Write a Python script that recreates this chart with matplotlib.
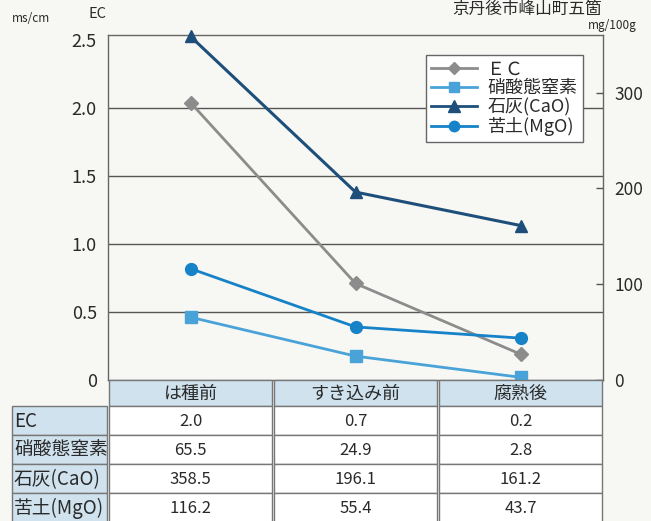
import matplotlib
matplotlib.use("Agg")
import matplotlib.pyplot as plt
from matplotlib.patches import Rectangle
from matplotlib.lines import Line2D

plt.rcParams['font.family'] = ['Noto Sans CJK JP', 'DejaVu Sans']

# ---- data ----
stages = ['は種前', 'すき込み前', '腐熟後']
ec = [2.04, 0.71, 0.19]            # ms/cm (left axis)
nitrate = [65.5, 24.9, 2.8]        # mg/100g (right axis)
lime = [358.5, 196.1, 161.2]       # mg/100g
magnesia = [116.2, 55.4, 43.7]     # mg/100g
series_names = ['ＥＣ', '硝酸態窒素', '石灰(CaO)', '苦土(MgO)']
table_labels = ['EC', '硝酸態窒素', '石灰(CaO)', '苦土(MgO)']
left_ticks = [0, 0.5, 1.0, 1.5, 2.0, 2.5]
left_ticklabels = ['0', '0.5', '1.0', '1.5', '2.0', '2.5']
right_ticks = [0, 100, 200, 300]

W, H = 651, 521
BG = '#f7f7f4'
TXT = '#2a2a2a'
fig = plt.figure(figsize=(W / 100, H / 100), dpi=100, facecolor=BG)

def fx(x):
    return x / W

def fy(y):
    return 1 - y / H

ax_l, ax_r, ax_t, ax_b = 108, 603, 35, 380
ax = fig.add_axes([fx(ax_l), fy(ax_b), fx(ax_r - ax_l), (ax_b - ax_t) / H])
ax.set_facecolor(BG)
ax.set_xlim(-0.5, 2.5)
ax.set_ylim(0, 2.537)
for v in left_ticks[1:-1]:
    ax.axhline(v, color='#555555', lw=1.0, zorder=1)
ax.set_yticks(left_ticks)
ax.set_yticklabels(left_ticklabels)
ax.tick_params(axis='y', length=0, pad=8, labelsize=13, colors=TXT)
ax.set_xticks([])
for s in ax.spines.values():
    s.set_color('#666666')
    s.set_linewidth(1.0)

ax2 = ax.twinx()
ax2.set_ylim(0, 360)
ax2.set_yticks(right_ticks)
ax2.tick_params(axis='y', direction='in', length=5, width=1, pad=8,
                labelsize=12.5, colors='#555555', labelcolor=TXT)
for s in ax2.spines.values():
    s.set_visible(False)

x = list(range(len(stages)))
ax.plot(x, ec, color='#8c8c8c', lw=2, marker='D', ms=7, zorder=5, clip_on=False)
ax2.plot(x, nitrate, color='#4aa3d8', lw=2, marker='s', ms=8, zorder=5, clip_on=False)
ax2.plot(x, lime, color='#1d4f7a', lw=2.2, marker='^', ms=9, zorder=5, clip_on=False)
ax2.plot(x, magnesia, color='#1682c8', lw=2, marker='o', ms=8.5, zorder=5, clip_on=False)

handles = [
    Line2D([], [], color='#8c8c8c', lw=2, marker='D', ms=6),
    Line2D([], [], color='#4aa3d8', lw=2, marker='s', ms=7),
    Line2D([], [], color='#1d4f7a', lw=2, marker='^', ms=8),
    Line2D([], [], color='#1682c8', lw=2, marker='o', ms=7.5),
]
leg = ax2.legend(handles, series_names, loc='upper left',
                 bbox_to_anchor=((426 - ax_l) / (ax_r - ax_l), (ax_b - 55) / (ax_b - ax_t)),
                 borderaxespad=0, fancybox=False, framealpha=1, edgecolor='#666666',
                 fontsize=13, handlelength=2.5, labelspacing=0.05, borderpad=0.3,
                 handletextpad=0.6)
leg.get_frame().set_linewidth(1.0)
leg.get_frame().set_facecolor('white')
leg.set_zorder(10)
for t in leg.get_texts():
    t.set_color(TXT)

# header texts
fig.text(fx(31), fy(18), 'ms/cm', fontsize=8.5, color=TXT, ha='center', va='center')
fig.text(fx(97), fy(14), 'EC', fontsize=10.5, color=TXT, ha='center', va='center')
fig.text(fx(612), fy(25), 'mg/100g', fontsize=8.5, color=TXT, ha='center', va='center')
fig.text(fx(527), fy(1), '京丹後市峰山町五箇', fontsize=12, color=TXT, ha='center', va='top')

# ---- table ----
HEAD_BG = '#cfe2ee'
EDGE = '#777777'
col_w = (ax_r - ax_l) / 3.0
col_edges = [ax_l + i * col_w for i in range(len(stages) + 1)]
row_edges = [380, 406, 435, 464, 493, 522]
label_l, label_r = 12, 107

def cell(x0, y0, x1, y1, face):
    fig.patches.append(Rectangle((fx(x0), fy(y1)), fx(x1 - x0), (y1 - y0) / H,
                                 transform=fig.transFigure, facecolor=face,
                                 edgecolor=EDGE, lw=1.0, zorder=1))

for j, name in enumerate(stages):
    x0, x1 = col_edges[j], col_edges[j + 1]
    cell(x0 + 1, row_edges[0], x1 - 1, row_edges[1], HEAD_BG)
    fig.text(fx((x0 + x1) / 2), fy((row_edges[0] + row_edges[1]) / 2 + 1), name,
             fontsize=13, ha='center', va='center', color=TXT)

table_vals = [[f'{v:.1f}' for v in ec], [f'{v:.1f}' for v in nitrate],
              [f'{v:.1f}' for v in lime], [f'{v:.1f}' for v in magnesia]]
for i, lab in enumerate(table_labels):
    y0, y1 = row_edges[i + 1], row_edges[i + 2]
    cell(label_l, y0, label_r, y1, HEAD_BG)
    fig.text(fx(label_l + 2), fy((y0 + y1) / 2 + 1), lab, fontsize=13.5,
             ha='left', va='center', color=TXT)
    for j in range(len(stages)):
        x0, x1 = col_edges[j], col_edges[j + 1]
        cell(x0 + 1, y0, x1 - 1, y1, 'white')
        fig.text(fx((x0 + x1) / 2), fy((y0 + y1) / 2 + 1), table_vals[i][j],
                 fontsize=12, ha='center', va='center', color=TXT)

fig.savefig('out.png', dpi=100, facecolor=BG)
